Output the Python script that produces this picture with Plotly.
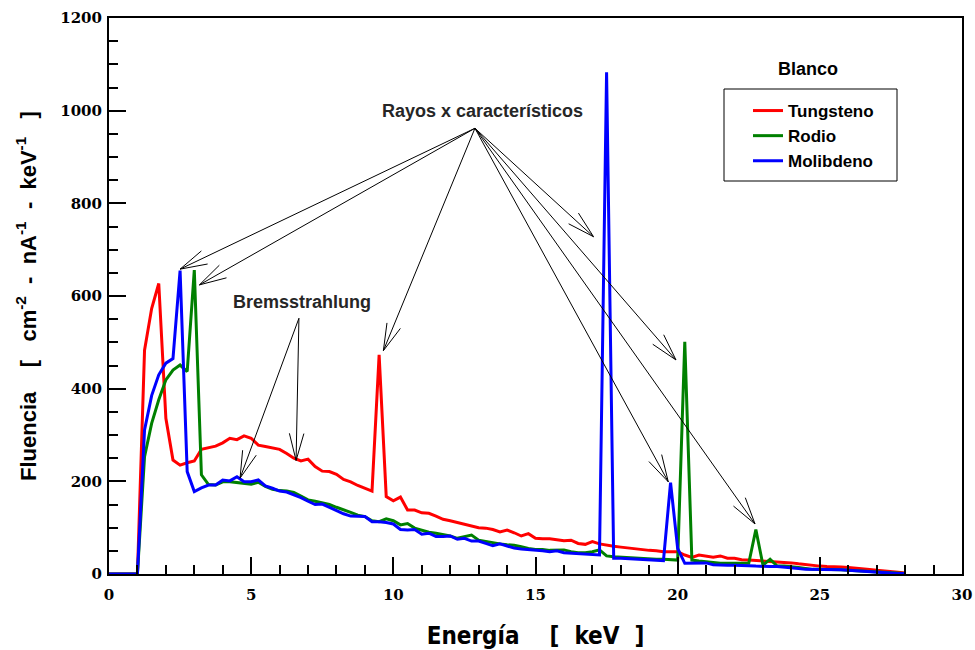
import math
import plotly.graph_objects as go

# ---------------- data ----------------
energy = [0.0, 0.25, 0.5, 0.75, 1.0, 1.25, 1.5, 1.75, 2.0, 2.25, 2.5, 2.75,
          3.0, 3.25, 3.5, 3.75, 4.0, 4.25, 4.5, 4.75, 5.0, 5.25, 5.5, 5.75,
          6.0, 6.25, 6.5, 6.75, 7.0, 7.25, 7.5, 7.75, 8.0, 8.25, 8.5, 8.75,
          9.0, 9.25, 9.5, 9.75, 10.0, 10.25, 10.5, 10.75, 11.0, 11.25, 11.5, 11.75,
          12.0, 12.25, 12.5, 12.75, 13.0, 13.25, 13.5, 13.75, 14.0, 14.25, 14.5, 14.75,
          15.0, 15.25, 15.5, 15.75, 16.0, 16.25, 16.5, 16.75, 17.0, 17.25, 17.5, 17.75,
          18.0, 18.25, 18.5, 18.75, 19.0, 19.25, 19.5, 19.75, 20.0, 20.25, 20.5, 20.75,
          21.0, 21.25, 21.5, 21.75, 22.0, 22.25, 22.5, 22.75, 23.0, 23.25, 23.5, 23.75,
          24.0, 24.25, 24.5, 24.75, 25.0, 25.25, 25.5, 25.75, 26.0, 26.25, 26.5, 26.75,
          27.0, 27.25, 27.5, 27.75, 28.0]

tungsteno = [0, 0, 0, 0, 0, 483, 573, 627, 336, 246, 235, 240,
             244, 269, 272, 276, 283, 293, 290, 298, 293, 278, 275, 272,
             269, 260, 250, 244, 248, 232, 222, 221, 215, 204, 199, 191,
             185, 179, 473, 167, 158, 166, 138, 138, 132, 131, 125, 118,
             115, 111, 107, 103, 100, 99, 96, 91, 95, 89, 82, 87,
             77, 76, 76, 74, 72, 73, 66, 64, 70, 65, 62, 60,
             58, 56, 54, 53, 51, 50, 48, 48, 48, 41, 36, 41,
             38, 36, 39, 34, 34, 31, 30, 29, 29, 28, 27, 26,
             24, 22, 20, 18, 17, 16, 16, 15, 14, 13, 11, 10,
             8, 7, 6, 4, 2]

rodio = [0, 0, 0, 0, 0, 253, 325, 376, 419, 440, 451, 437,
         656, 214, 193, 192, 199, 199, 197, 195, 194, 198, 189, 183,
         180, 179, 176, 168, 160, 157, 154, 150, 144, 139, 133, 127,
         124, 115, 113, 119, 115, 106, 109, 99, 95, 90, 88, 85,
         82, 77, 81, 84, 73, 70, 68, 65, 63, 62, 59, 55,
         53, 53, 51, 51, 52, 48, 46, 46, 48, 52, 39, 37,
         36, 36, 35, 34, 33, 32, 32, 31, 30, 501, 30, 28,
         26, 24, 23, 23, 23, 23, 23, 96, 19, 32, 17, 17,
         16, 14, 12, 10, 10, 10, 9, 9, 8, 7, 6, 5,
         5, 4, 3, 2, 1]

molibdeno = [0, 0, 0, 0, 0, 311, 385, 430, 455, 465, 655, 221,
             178, 186, 192, 192, 203, 201, 210, 199, 199, 203, 190, 185,
             179, 177, 171, 165, 157, 150, 151, 144, 137, 130, 125, 124,
             124, 113, 113, 111, 108, 96, 95, 96, 86, 88, 81, 81,
             82, 75, 77, 71, 71, 66, 61, 65, 60, 56, 54, 53,
             52, 50, 48, 50, 46, 45, 43, 43, 41, 41, 1083, 34,
             34, 33, 33, 32, 31, 30, 29, 197, 55, 23, 23, 23,
             24, 20, 19, 19, 19, 19, 18, 17, 16, 16, 16, 15,
             14, 12, 10, 10, 10, 10, 10, 9, 8, 7, 5, 4,
             3, 3, 2, 1, 1]

series_names = ["Tungsteno", "Rodio", "Molibdeno"]
series_colors = ["#ff0000", "#008000", "#0000ff"]

x_major = [0, 5, 10, 15, 20, 25, 30]
y_major = [0, 200, 400, 600, 800, 1000, 1200]

# annotation arrows (tail = label apex, tips = pointed features), data coords
rayos_label = (13.15, 1000)
rayos_apex = (12.87, 962)
rayos_tips = [(2.5, 658), (3.18, 624), (9.65, 482), (17.04, 728),
              (19.94, 462), (19.67, 199), (22.72, 108)]
brems_label = (6.79, 588)
brems_apex = (6.68, 552)
brems_tips = [(4.61, 207), (6.58, 245)]

# ---------------- layout geometry ----------------
W, H = 975, 650
ML, MR, MT, MB = 109, 13, 18, 76
XR = (0, 30)
YR = (0, 1200)
PW = W - ML - MR
PH = H - MT - MB
XU = (XR[1] - XR[0]) / PW   # data units per pixel (x)
YU = (YR[1] - YR[0]) / PH   # data units per pixel (y)

def to_px(x, y):
    return (ML + (x - XR[0]) / XU, MT + PH - (y - YR[0]) / YU)

def to_data(px, py):
    return (XR[0] + (px - ML) * XU, YR[0] + (MT + PH - py) * YU)

def px_to_paper(px, py):
    return ((px - ML) / PW, (MT + PH - py) / PH)

def arrow_shapes(tail, tip, head_len=28, half_angle=15):
    shapes = [dict(type="line", xref="x", yref="y",
                   x0=tail[0], y0=tail[1], x1=tip[0], y1=tip[1],
                   line=dict(color="black", width=1))]
    tx, ty = to_px(*tip)
    ax_, ay_ = to_px(*tail)
    dx, dy = ax_ - tx, ay_ - ty
    n = math.hypot(dx, dy)
    ux, uy = dx / n, dy / n
    for s in (1, -1):
        a = math.radians(s * half_angle)
        rx = ux * math.cos(a) - uy * math.sin(a)
        ry = ux * math.sin(a) + uy * math.cos(a)
        ex, ey = to_data(tx + head_len * rx, ty + head_len * ry)
        shapes.append(dict(type="line", xref="x", yref="y",
                           x0=tip[0], y0=tip[1], x1=ex, y1=ey,
                           line=dict(color="black", width=1)))
    return shapes

SANS = "Liberation Sans, Arial, Helvetica, sans-serif"
NARROW = "Liberation Sans Narrow, Arial Narrow, DejaVu Sans Condensed, sans-serif"
SERIF = "DejaVu Serif, serif"

fig = go.Figure()
for name, vals, col in zip(series_names, [tungsteno, rodio, molibdeno], series_colors):
    fig.add_trace(go.Scatter(x=energy, y=vals, mode="lines", name=name,
                             line=dict(color=col, width=3)))

shapes = []
for t in rayos_tips:
    shapes += arrow_shapes(rayos_apex, t)
for t in brems_tips:
    shapes += arrow_shapes(brems_apex, t)

# legend frame
lx0, ly0 = px_to_paper(724, 181)
lx1, ly1 = px_to_paper(897, 89)
shapes.append(dict(type="rect", xref="paper", yref="paper",
                   x0=lx0, y0=ly0, x1=lx1, y1=ly1,
                   line=dict(color="black", width=1), fillcolor="rgba(0,0,0,0)"))

bx, by = px_to_paper(808, 69)
annotations = [
    dict(x=rayos_label[0], y=rayos_label[1], xref="x", yref="y",
         xanchor="center", yanchor="middle",
         text="Rayos x característicos", showarrow=False,
         font=dict(family=SANS, size=18, color="#262626", weight="bold")),
    dict(x=brems_label[0], y=brems_label[1], xref="x", yref="y",
         xanchor="center", yanchor="middle",
         text="Bremsstrahlung", showarrow=False,
         font=dict(family=SANS, size=18, color="#262626", weight="bold")),
    dict(x=bx, y=by, xref="paper", yref="paper",
         xanchor="center", yanchor="middle",
         text="Blanco", showarrow=False,
         font=dict(family=SANS, size=18, color="black", weight="bold")),
]

tickfont = dict(family=SERIF, size=15, color="black", weight="bold")
NB = "\u00a0"

legx, legy = px_to_paper(748, 93)

fig.update_layout(
    width=W, height=H, template="none",
    paper_bgcolor="white", plot_bgcolor="white",
    margin=dict(l=ML, r=MR, t=MT, b=MB, pad=0),
    showlegend=True,
    legend=dict(x=legx, y=legy, xanchor="left", yanchor="top",
                borderwidth=0, bgcolor="rgba(0,0,0,0)",
                font=dict(family=SANS, size=17, color="black", weight="bold"),
                tracegroupgap=0),
    xaxis=dict(range=list(XR), tickmode="array", tickvals=x_major,
               ticktext=[str(v) for v in x_major],
               ticks="inside", ticklen=17, tickwidth=1.5, tickcolor="black",
               minor=dict(dtick=1, ticks="inside", ticklen=9, tickwidth=1.5,
                          tickcolor="black", showgrid=False),
               showline=True, linecolor="black", linewidth=2, mirror=True,
               showgrid=False, zeroline=False, tickfont=tickfont,
               automargin=False, ticklabelstandoff=6,
               title=dict(text="Energía" + NB * 4 + "[" + NB * 2 + "keV" + NB * 2 + "]",
                          font=dict(family=NARROW, size=24, color="black", weight="bold"),
                          standoff=30)),
    yaxis=dict(range=list(YR), tickmode="array", tickvals=y_major,
               ticktext=[str(v) for v in y_major],
               ticks="inside", ticklen=17, tickwidth=1.5, tickcolor="black",
               minor=dict(dtick=50, ticks="inside", ticklen=9, tickwidth=1.5,
                          tickcolor="black", showgrid=False),
               showline=True, linecolor="black", linewidth=2, mirror=True,
               showgrid=False, zeroline=False, tickfont=tickfont,
               automargin=False, ticklabelstandoff=2,
               title=dict(text="Fluencia" + NB * 4 + "[" + NB * 3 + "cm<sup>-2</sup>" + NB * 2 + "-" + NB * 2
                          + "nA<sup>-1</sup>" + NB * 2 + "-" + NB * 2 + "keV<sup>-1</sup>" + NB * 3 + "]",
                          font=dict(family=SANS, size=22, color="black", weight="bold"),
                          standoff=18)),
    shapes=shapes,
    annotations=annotations,
)

fig.write_html("out.html",
               config={"displayModeBar": False},
               post_script="document.body.style.margin='0';document.body.style.overflow='hidden';")
